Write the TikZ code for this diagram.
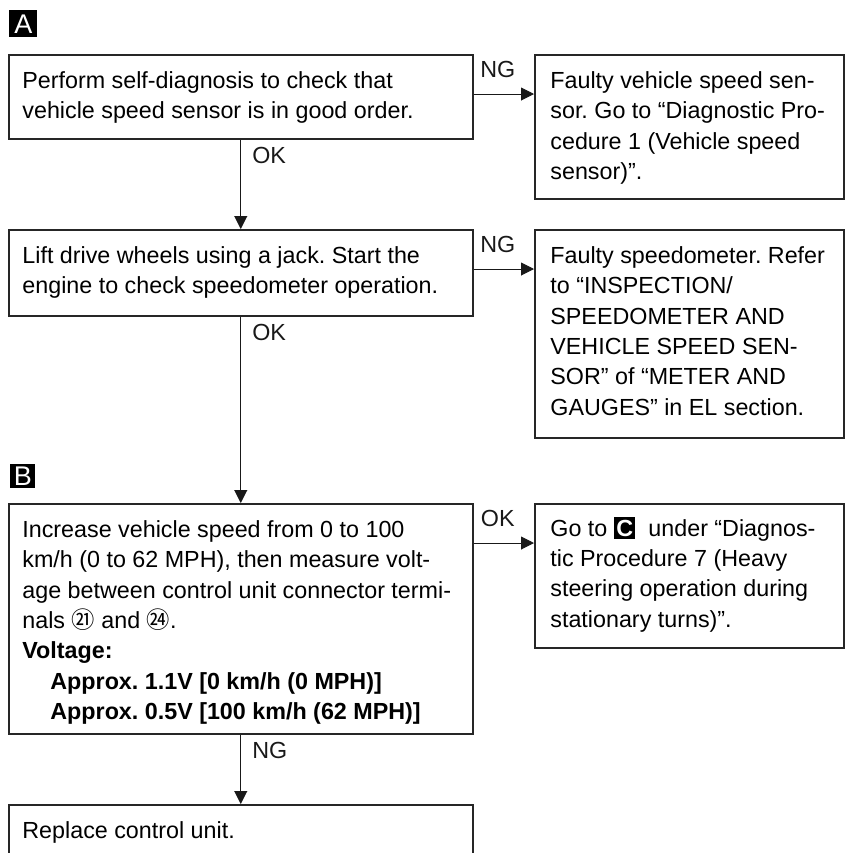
\documentclass[tikz,border=0pt]{standalone}
\usepackage{fontspec}
\setmainfont{Liberation Sans}
\newfontfamily\cjk{Noto Sans CJK JP}
\usetikzlibrary{arrows.meta}
\frenchspacing
\newcommand{\tagC}[1]{{\setlength{\fboxsep}{1.2pt}\colorbox{black}{\textcolor{white}{\bfseries #1}}}}
\newcommand{\circnum}[1]{{\cjk #1}}

\begin{document}
\begin{tikzpicture}[x=0.5pt, y=-0.5pt,
    frame/.style={draw=black!85, line width=0.75pt, anchor=north west, inner sep=0pt},
    txt/.style={anchor=north west, align=left, inner sep=0pt, font=\fontsize{11.65}{15.2}\selectfont},
    tagbox/.style={fill=black, text=white, anchor=north west, inner sep=0pt, font=\fontsize{13.5}{13.5}\selectfont},
    arr/.style={-{Triangle[length=6.5pt,width=6.5pt]}, line width=0.5pt, black!90},
    lbl/.style={inner sep=0pt, font=\fontsize{11.65}{15.2}\selectfont}]
  \useasboundingbox (0,0) rectangle (845,853);
  \node[tagbox, minimum width=14pt, minimum height=13.5pt] (tagA) at (9,10) {A};
  \node[frame, minimum width=232pt, minimum height=42pt] (chk) at (8,54) {};
  \node[txt] (chk-t) at ([xshift=7pt,yshift=-8.5pt]chk.north west)
    {Perform self-diagnosis to check that\\vehicle speed sensor is in good order.};
  \node[frame, minimum width=154.5pt, minimum height=72pt] (nga) at (534,54) {};
  \node[txt] (nga-t) at ([xshift=8pt,yshift=-8.5pt]nga.north west)
    {Faulty vehicle speed sen-\\sor. Go to “Diagnostic Pro-\\cedure 1 (Vehicle speed\\sensor)”.};
  \node[frame, minimum width=232pt, minimum height=43pt] (lift) at (8,229) {};
  \node[txt] (lift-t) at ([xshift=7pt,yshift=-8.5pt]lift.north west)
    {Lift drive wheels using a jack. Start the\\engine to check speedometer operation.};
  \node[frame, minimum width=154.5pt, minimum height=104pt] (ngb) at (534,229) {};
  \node[txt] (ngb-t) at ([xshift=8pt,yshift=-8.5pt]ngb.north west)
    {Faulty speedometer. Refer\\to “INSPECTION/\\SPEEDOMETER AND\\VEHICLE SPEED SEN-\\SOR” of “METER AND\\GAUGES” in EL section.};
  \node[tagbox, minimum width=12.5pt, minimum height=12pt] (tagB) at (10,464) {B};
  \node[frame, minimum width=232pt, minimum height=115pt] (volt) at (8,503) {};
  \node[txt] (volt-t) at ([xshift=7pt,yshift=-8.5pt]volt.north west)
    {Increase vehicle speed from 0 to 100\\km/h (0 to 62 MPH), then measure volt-\\age between control unit connector termi-\\nals \circnum{㉑} and \circnum{㉔}.\\\textbf{Voltage:}\\\hspace*{14pt}\textbf{Approx. 1.1V [0 km/h (0 MPH)]}\\\hspace*{14pt}\textbf{Approx. 0.5V [100 km/h (62 MPH)]}};
  \node[frame, minimum width=154.5pt, minimum height=72pt] (okc) at (534,503) {};
  \node[txt] (okc-t) at ([xshift=8pt,yshift=-7pt]okc.north west)
    {Go to \tagC{C}\ \ under “Diagnos-\\tic Procedure 7 (Heavy\\steering operation during\\stationary turns)”.};
  \node[frame, minimum width=232pt, minimum height=30pt] (repl) at (8,804) {};
  \node[txt] (repl-t) at ([xshift=7pt,yshift=-8.5pt]repl.north west) {Replace control unit.};
  \draw[arr] ([yshift=-20pt]chk.north east) -- ([yshift=-20pt]nga.north west)
    node[lbl, midway, above=8pt, xshift=-3pt] {NG};
  \draw[arr] (chk.south) -- (lift.north)
    node[lbl, pos=0, anchor=north west, xshift=5.5pt, yshift=-3.5pt] {OK};
  \draw[arr] ([yshift=-20pt]lift.north east) -- ([yshift=-20pt]ngb.north west)
    node[lbl, midway, above=8pt, xshift=-3pt] {NG};
  \draw[arr] (lift.south) -- (volt.north)
    node[lbl, pos=0, anchor=north west, xshift=5.5pt, yshift=-3.5pt] {OK};
  \draw[arr] ([yshift=-20pt]volt.north east) -- ([yshift=-20pt]okc.north west)
    node[lbl, midway, above=8pt, xshift=-3pt] {OK};
  \draw[arr] (volt.south) -- (repl.north)
    node[lbl, pos=0, anchor=north west, xshift=5.5pt, yshift=-3.5pt] {NG};
\end{tikzpicture}
\end{document}
